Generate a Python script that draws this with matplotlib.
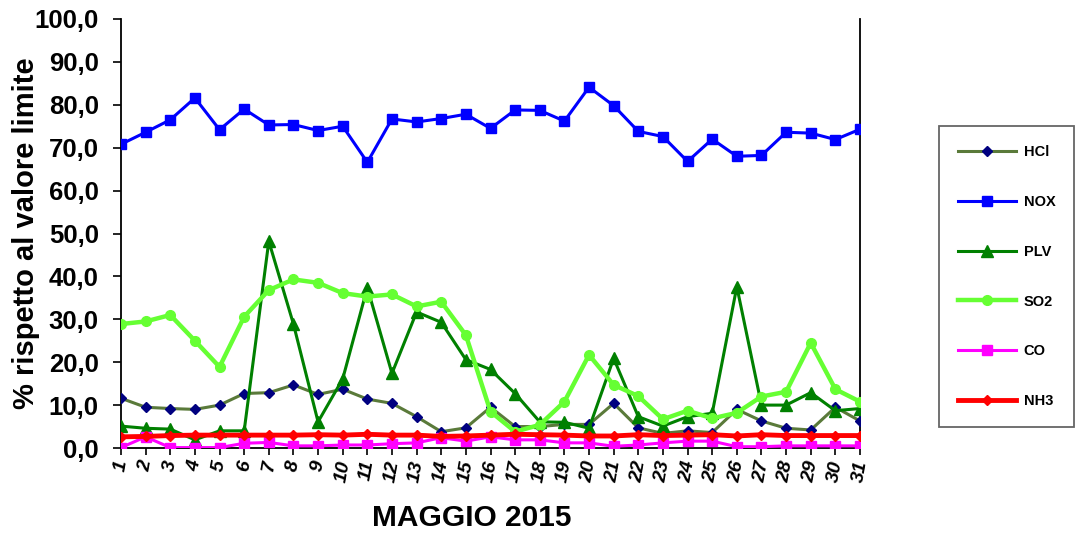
import matplotlib
matplotlib.use("Agg")
import matplotlib.pyplot as plt
from matplotlib.ticker import FuncFormatter

days = list(range(1, 32))
hcl = [11.6, 9.5, 9.2, 9.0, 10.0, 12.7, 12.9, 14.7, 12.5, 13.7, 11.4, 10.4, 7.3, 3.8, 4.7,
       9.5, 5.0, 5.0, 5.5, 5.5, 10.4, 4.7, 3.4, 4.0, 3.6, 9.0, 6.3, 4.6, 4.2, 9.5, 6.3]
nox = [70.8, 73.6, 76.5, 81.6, 74.2, 79.0, 75.3, 75.4, 74.0, 75.0, 66.6, 76.7, 76.0, 76.8, 77.8,
       74.5, 78.8, 78.7, 76.2, 84.1, 79.8, 73.8, 72.6, 66.8, 72.0, 68.0, 68.2, 73.6, 73.4, 71.9, 74.3]
plv = [5.1, 4.6, 4.4, 1.9, 4.0, 4.0, 48.2, 28.9, 6.1, 16.1, 37.4, 17.4, 31.7, 29.3, 20.6,
       18.3, 12.7, 6.1, 6.0, 4.6, 20.9, 7.3, 5.1, 7.3, 8.1, 37.6, 10.0, 10.0, 12.9, 8.7, 9.2]
so2 = [28.9, 29.5, 31.0, 25.0, 18.9, 30.6, 36.8, 39.3, 38.5, 36.1, 35.3, 35.8, 33.0, 34.1, 26.3,
       8.5, 3.8, 5.4, 10.8, 21.7, 14.7, 12.1, 6.7, 8.7, 6.9, 8.2, 12.0, 13.1, 24.5, 13.7, 10.8]
co = [0.1, 2.6, 0.1, 0.1, 0.1, 1.1, 1.3, 0.5, 0.5, 0.7, 0.7, 1.0, 1.2, 2.4, 1.6,
      2.6, 1.9, 1.9, 1.2, 1.2, 0.4, 0.7, 1.2, 1.6, 1.6, 0.3, 0.3, 0.5, 0.5, 0.5, 0.5]
nh3 = [2.6, 2.7, 2.9, 3.0, 3.0, 3.0, 3.0, 3.0, 3.1, 3.0, 3.2, 3.0, 3.0, 2.7, 2.8,
       3.0, 3.2, 3.1, 3.0, 2.8, 2.8, 3.1, 2.9, 3.0, 3.1, 2.8, 3.1, 2.9, 2.9, 2.9, 2.9]

y_ticks = list(range(0, 101, 10))
x_label = "MAGGIO 2015"
y_label = "% rispetto al valore limite"

plt.rcParams['font.family'] = ['Liberation Sans', 'DejaVu Sans']

fig = plt.figure(figsize=(10.76, 5.39), dpi=100)
ax = fig.add_axes([121/1076, 1-448/539, (860-121)/1076, (448-19)/539])

ax.plot(days, hcl, color='#5a7a3a', lw=2.2, marker='D', ms=5, mfc='#000080', mec='#000080', label='HCl', zorder=3)
ax.plot(days, nox, color='#0000ff', lw=2.2, marker='s', ms=7, mfc='#0000ff', mec='#0000ff', label='NOX', zorder=3)
ax.plot(days, plv, color='#008000', lw=2.2, marker='^', ms=8, mfc='#008000', mec='#008000', label='PLV', zorder=3)
ax.plot(days, so2, color='#66ff33', lw=3.2, marker='o', ms=7, mfc='#66ff33', mec='#66ff33', label='SO2', zorder=3)
ax.plot(days, co, color='#ff00ff', lw=2.2, marker='s', ms=7, mfc='#ff00ff', mec='#ff00ff', label='CO', zorder=3)
ax.plot(days, nh3, color='#ff0000', lw=3.5, marker='D', ms=5, mfc='#ff0000', mec='#ff0000', label='NH3', zorder=4)

ax.set_xlim(1, 31)
ax.set_ylim(0, 100)
ax.set_yticks(y_ticks)
ax.yaxis.set_major_formatter(FuncFormatter(lambda v, p: f"{v:.1f}".replace('.', ',')))
ax.set_xticks(days)
ax.set_xticklabels([str(d) for d in days], rotation=80, fontsize=14, fontweight='bold', fontstyle='italic')
for lab in ax.get_yticklabels():
    lab.set_fontsize(18.5)
    lab.set_fontweight('bold')
ax.tick_params(axis='y', direction='out', length=6, width=1.2, pad=10)
ax.tick_params(axis='x', direction='out', length=5, width=1.2, pad=3)
ax.spines['top'].set_visible(False)
for s in ['left', 'bottom', 'right']:
    ax.spines[s].set_linewidth(1.3)
ax.set_xlabel(x_label, fontsize=21.5, fontweight='bold')
ax.xaxis.set_label_coords((472-121)/739, -(532-448)/429)
ax.xaxis.label.set_va('bottom')
ax.set_ylabel(y_label, fontsize=21, fontweight='bold', labelpad=-4)

leg = fig.legend(loc='upper left', bbox_to_anchor=(939/1076, 1-126/539), frameon=True,
                 fancybox=False, fontsize=10.5, handlelength=4.0, labelspacing=2.46,
                 borderpad=1.3, handletextpad=0.5, borderaxespad=0)
leg.get_frame().set_edgecolor('#404040')
leg.get_frame().set_linewidth(1.3)
for t in leg.get_texts():
    t.set_fontweight('bold')

fig.savefig('out.png', dpi=100)
